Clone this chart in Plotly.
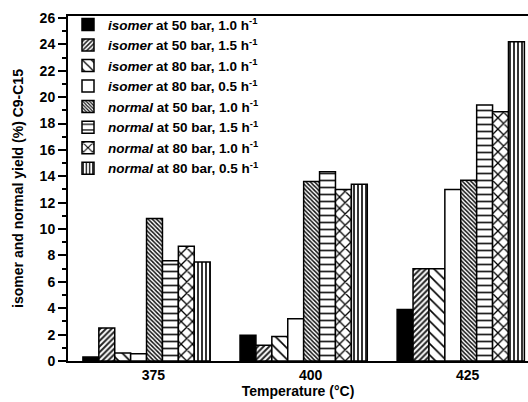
import plotly.graph_objects as go

temperatures = [375, 400, 425]
tick_labels = ["375", "400", "425"]

series_names = [
    "<i>isomer</i> at 50 bar, 1.0 h<sup>-1</sup>",
    "<i>isomer</i> at 50 bar, 1.5 h<sup>-1</sup>",
    "<i>isomer</i> at 80 bar, 1.0 h<sup>-1</sup>",
    "<i>isomer</i> at 80 bar, 0.5 h<sup>-1</sup>",
    "<i>normal</i> at 50 bar, 1.0 h<sup>-1</sup>",
    "<i>normal</i> at 50 bar, 1.5 h<sup>-1</sup>",
    "<i>normal</i> at 80 bar, 1.0 h<sup>-1</sup>",
    "<i>normal</i> at 80 bar, 0.5 h<sup>-1</sup>",
]

isomer_50_10 = [0.3, 1.95, 3.9]
isomer_50_15 = [2.5, 1.2, 7.0]
isomer_80_10 = [0.6, 1.85, 7.0]
isomer_80_05 = [0.55, 3.2, 13.0]
normal_50_10 = [10.8, 13.6, 13.7]
normal_50_15 = [7.6, 14.35, 19.4]
normal_80_10 = [8.7, 13.0, 18.9]
normal_80_05 = [7.5, 13.4, 24.2]

series_values = [isomer_50_10, isomer_50_15, isomer_80_10, isomer_80_05,
                 normal_50_10, normal_50_15, normal_80_10, normal_80_05]

patterns = [
    dict(shape="", bgcolor="black"),
    dict(shape="/", size=4, solidity=0.5, fgcolor="#222", bgcolor="white", fillmode="replace"),
    dict(shape="\\", size=8, solidity=0.2, fgcolor="black", bgcolor="white", fillmode="replace"),
    dict(shape="", bgcolor="white"),
    dict(shape="\\", size=3, solidity=0.5, fgcolor="#111", bgcolor="white", fillmode="replace"),
    dict(shape="-", size=7, solidity=0.25, fgcolor="#222", bgcolor="white", fillmode="replace"),
    dict(shape="x", size=8, solidity=0.3, fgcolor="black", bgcolor="white", fillmode="replace"),
    dict(shape="|", size=4, solidity=0.4, fgcolor="black", bgcolor="white", fillmode="replace"),
]
colors = ["black", "white", "white", "white", "white", "white", "white", "white"]

FONT = "Liberation Sans, Arial, sans-serif"

fig = go.Figure()
for i, (name, vals) in enumerate(zip(series_names, series_values)):
    fig.add_trace(go.Bar(
        x=temperatures, y=vals, name=name, legendgroup=f"g{i}",
        marker=dict(color=colors[i], line=dict(color="black", width=1.5),
                    pattern=patterns[i]),
    ))

fig.update_layout(
    width=528, height=402,
    margin=dict(l=68, r=0, t=16, b=41, autoexpand=False),
    paper_bgcolor="white", plot_bgcolor="white",
    barmode="group", bargap=0.19, bargroupgap=0,
    font=dict(family=FONT, size=14, color="black", weight="bold"),
    showlegend=True,
    legend=dict(x=0.0, y=1.02, xanchor="left", yanchor="top",
                bgcolor="rgba(0,0,0,0)", borderwidth=0,
                font=dict(family=FONT, size=13.5, color="black", weight="bold"),
                itemwidth=30, tracegroupgap=4.5, traceorder="normal"),
    xaxis=dict(
        range=[362.5, 435.7], automargin=False,
        tickvals=[t + 1.1 for t in temperatures], ticktext=tick_labels,
        ticks="", showgrid=False, zeroline=False,
        showline=True, linecolor="black", linewidth=2, mirror=True,
        title=dict(text="Temperature (°C)", standoff=2,
                   font=dict(family=FONT, size=14, weight="bold")),
        tickfont=dict(family=FONT, size=14, weight="bold"),
    ),
    yaxis=dict(
        range=[0, 26.15], dtick=2, tick0=0, automargin=False,
        ticks="outside", ticklen=8, tickwidth=1.5, tickcolor="black",
        minor=dict(dtick=1, ticks="outside", ticklen=4, tickwidth=1.5, tickcolor="black"),
        showgrid=False, zeroline=False,
        showline=True, linecolor="black", linewidth=2,
        title=dict(text="isomer and normal yield (%) C9-C15", standoff=13,
                   font=dict(family=FONT, size=14, weight="bold")),
        tickfont=dict(family=FONT, size=14, weight="bold"),
    ),
)

fig.write_html("out.html", config={"displayModeBar": False},
               post_script="document.body.style.margin='0';document.body.style.overflow='hidden';")
